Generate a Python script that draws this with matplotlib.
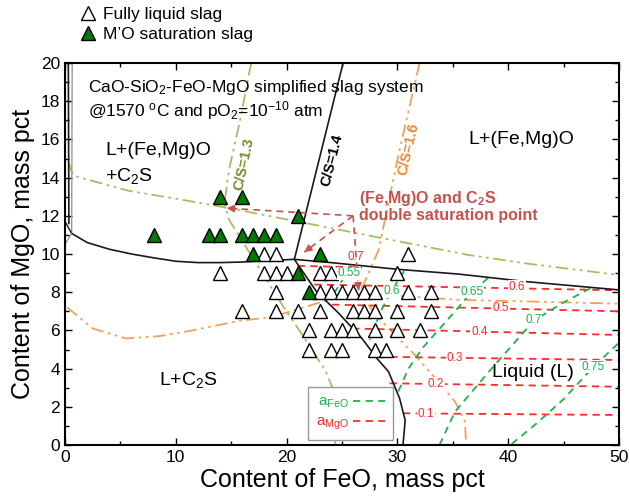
import matplotlib
matplotlib.use("Agg")
import matplotlib.pyplot as plt
from matplotlib.lines import Line2D

plt.rcParams['font.family'] = ['Liberation Sans', 'DejaVu Sans']
plt.rcParams['mathtext.fontset'] = 'custom'
plt.rcParams['mathtext.rm'] = 'Liberation Sans'
plt.rcParams['mathtext.it'] = 'Liberation Sans:italic'
plt.rcParams['mathtext.bf'] = 'Liberation Sans:bold'

# ---------------- data ----------------
liquid_feo = [18, 19, 31,
              14, 18, 19, 20, 23, 24, 30,
              19, 23, 24, 25, 26, 27, 28, 31, 33,
              16, 19, 21, 23, 26, 27, 28, 30, 33,
              22, 24, 25, 26, 28, 30, 32,
              22, 24, 25, 28, 29]
liquid_mgo = [10, 10, 10,
              9, 9, 9, 9, 9, 9, 9,
              8, 8, 8, 8, 8, 8, 8, 8, 8,
              7, 7, 7, 7, 7, 7, 7, 7, 7,
              6, 6, 6, 6, 6, 6, 6,
              5, 5, 5, 5, 5]
sat_feo = [8, 13, 14, 16, 17, 18, 19, 14, 16, 21, 17, 23, 21, 22]
sat_mgo = [11, 11, 11, 11, 11, 11, 11, 13, 13, 12, 10, 10, 9, 8]

# phase boundaries (solid black)
b_upper_x = [0.6, 2, 4, 6, 8, 10, 12, 14, 16, 18, 20.7]
b_upper_y = [11.08, 10.6, 10.25, 10.0, 9.8, 9.62, 9.55, 9.55, 9.58, 9.65, 9.72]
b_cs14_x = [20.7, 25.1]
b_cs14_y = [9.72, 20.0]
b_right_x = [20.7, 24, 30, 35.5, 41.7, 50]
b_right_y = [9.72, 9.55, 9.2, 8.95, 8.55, 8.12]
b_lower_x = [20.7, 22.7, 24.7, 26.8, 28.2, 29.2, 30.2, 30.7, 30.6, 30.5]
b_lower_y = [9.72, 8.03, 6.9, 5.58, 4.5, 3.84, 2.44, 1.3, 0.6, 0.0]
b_edge_x = [0.3, 0.35]
b_edge_y = [20.0, 11.6]
g_edge_x = [0.65, 0.6]
g_edge_y = [20.0, 11.08]

# C/S = 1.3 (yellow-green dash-dot)
cs13_x = [16.8, 15.8, 14.8, 14.4, 14.8, 16.3, 17.8, 19.9, 21.5, 23.5, 24.1, 24.3, 24.4]
cs13_y = [20.0, 17.0, 14.4, 12.7, 11.8, 10.4, 9.0, 7.07, 5.7, 3.9, 3.05, 1.5, 0.0]
# (Fe,Mg)O saturation line (yellow-green dash-dot)
fm_x = [0.3, 0.75, 5.8, 10, 14.8, 21, 28, 36.4, 41.7, 50]
fm_y = [14.8, 14.1, 13.3, 12.9, 12.4, 11.7, 10.9, 9.95, 9.5, 8.9]
# C/S = 1.6 (orange dash-dot-dot)
cs16_x = [32.0, 30.1, 28.3, 26.6, 28.3, 29.8, 31.6, 33.7, 35.2, 36.1, 36.2]
cs16_y = [20.0, 15.2, 10.2, 7.95, 6.64, 5.76, 4.7, 3.3, 2.27, 1.22, 0.0]
# C2S saturation line (orange dash-dot-dot)
c2s_x = [0.2, 2.5, 5.5, 8.5, 11.5, 15.7, 18.7, 23.2, 26.6, 35.5, 50]
c2s_y = [7.2, 6.1, 5.58, 5.7, 6.0, 6.5, 6.7, 7.5, 7.95, 7.6, 7.4]

# aMgO iso-activity lines (red dashed)
amgo_vals = ['0.7', '0.6', '0.5', '0.4', '0.3', '0.2', '0.1']
amgo_x0 = [21.0, 22.5, 24.1, 25.9, 28.2, 29.3, 30.5]
amgo_x1 = [26.8, 50, 50, 50, 50, 50, 50]
amgo_y0 = [9.38, 8.4, 7.35, 6.1, 4.62, 3.23, 1.66]
amgo_y1 = [9.3, 8.1, 7.0, 5.76, 4.45, 3.05, 1.57]
amgo_lab_x = [26.2, 40.8, 39.3, 37.4, 35.2, 33.5, 32.6]
amgo_lab_y = [9.86, 8.27, 7.15, 5.9, 4.56, 3.2, 1.64]

# aFeO iso-activity lines (green dashed)
afeo_vals = ['0.55', '0.6', '0.65', '0.7', '0.75']
afeo_x = [[25.8, 24.9, 23.9],
          [30.6, 29.4, 28.5, 27.5],
          [38.2, 36.7, 35.2, 32.3, 31.0, 30.0],
          [47.4, 44.8, 42.3, 38.5, 35.2, 33.8],
          [49.9, 47.7, 45.0, 42.5, 40.2]]
afeo_y = [[9.4, 8.5, 7.6],
          [9.1, 8.0, 7.0, 5.5],
          [8.75, 8.0, 7.0, 5.1, 4.0, 2.7],
          [8.2, 7.4, 6.5, 4.0, 1.75, 0.0],
          [5.3, 4.1, 2.4, 1.1, 0.0]]
afeo_lab_x = [25.6, 29.5, 36.7, 42.3, 47.7]
afeo_lab_y = [9.0, 8.06, 8.03, 6.54, 4.1]

# double saturation points (annotation arrows)
dsp_x = [14.6, 21.6, 26.5]
dsp_y = [12.4, 10.1, 8.1]
dsp_hub = (26.0, 12.0)

# colors
c_red = '#ff2a2a'
c_green = '#22b04b'
c_yg = '#a3c05e'
c_olive = '#6f8f2c'
c_orange = '#f5a05a'
c_orange_t = '#f0872a'
c_ann = '#c8504d'

# ---------------- figure ----------------
fig = plt.figure(figsize=(6.3, 5.04), dpi=100)
ax = fig.add_axes([65/630, 59/504, 554/630, 382/504])
ax.set_xlim(0, 50)
ax.set_ylim(0, 20)

dd = (0, (7, 2.5, 1.5, 2.5, 1.5, 2.5))
ax.plot(c2s_x, c2s_y, color=c_orange, lw=1.3, ls=dd)
ax.plot(cs16_x, cs16_y, color=c_orange, lw=1.3, ls=dd)
ax.plot(cs13_x, cs13_y, color=c_yg, lw=1.3, ls=dd)
ax.plot(fm_x, fm_y, color=c_yg, lw=1.3, ls=dd)

for i, v in enumerate(amgo_vals):
    ax.plot([amgo_x0[i], amgo_x1[i]], [amgo_y0[i], amgo_y1[i]], color=c_red,
            lw=1.3, ls=(0, (4, 3)))
    if i == 0:
        ax.text(amgo_lab_x[i], amgo_lab_y[i], v, color=c_red, fontsize=8.5,
                ha='center', va='center')
    else:
        ax.text(amgo_lab_x[i], amgo_lab_y[i], v, color=c_red, fontsize=8.5,
                ha='center', va='center',
                bbox=dict(facecolor='white', edgecolor='none', pad=0.6))

for i, v in enumerate(afeo_vals):
    ax.plot(afeo_x[i], afeo_y[i], color=c_green, lw=1.3, ls=(0, (4, 3)))
    ax.text(afeo_lab_x[i], afeo_lab_y[i], v, color=c_green, fontsize=8.5,
            ha='center', va='center',
            bbox=dict(facecolor='white', edgecolor='none', pad=0.3))

# phase boundaries
for bx, by in [(b_upper_x, b_upper_y), (b_cs14_x, b_cs14_y),
               (b_right_x, b_right_y), (b_lower_x, b_lower_y),
               (b_edge_x, b_edge_y)]:
    ax.plot(bx, by, color='#1a1a1a', lw=1.2)
ax.plot(g_edge_x, g_edge_y, color='#999999', lw=1.0)
ax.plot([0, 0.6], [11.7, 11.08], color='#1a1a1a', lw=1.0)
ax.plot([0.6, 0], [11.08, 10.5], color='#888888', lw=0.8)

# annotation arrows
for px, py in zip(dsp_x, dsp_y):
    ax.plot([dsp_hub[0], px], [dsp_hub[1], py], color=c_ann, lw=1.2,
            ls=(0, (4, 3)))
    dx = px - dsp_hub[0]
    dy = py - dsp_hub[1]
    ax.annotate('', xy=(px, py), xytext=(px - 0.08 * dx, py - 0.08 * dy),
                arrowprops=dict(arrowstyle='-|>', color=c_ann, lw=1.0,
                                mutation_scale=11, shrinkA=0, shrinkB=0))

# points
ax.plot(liquid_feo, liquid_mgo, ls='none', marker='^', ms=10,
        mfc='white', mec='black', mew=1.0)
ax.plot(sat_feo, sat_mgo, ls='none', marker='^', ms=10,
        mfc='#007a00', mec='black', mew=1.0)

# texts
ax.text(2.1, 18.7, r'CaO-SiO$_2$-FeO-MgO simplified slag system', fontsize=12.5,
        va='center', ha='left')
ax.text(2.1, 17.5, r'@1570 $^{\rm o}$C and pO$_2$=10$^{-10}$ atm', fontsize=12.5,
        va='center', ha='left')
ax.text(3.6, 15.4, 'L+(Fe,Mg)O', fontsize=14, va='center', ha='left')
ax.text(3.6, 14.1, r'+C$_2$S', fontsize=14, va='center', ha='left')
ax.text(36.4, 16.0, 'L+(Fe,Mg)O', fontsize=14, va='center', ha='left')
ax.text(8.5, 3.4, r'L+C$_2$S', fontsize=14, va='center', ha='left')
ax.text(38.5, 3.8, 'Liquid (L)', fontsize=14, va='center', ha='left')
ax.text(16.2, 14.7, 'C/S=1.3', fontsize=10.5, color=c_olive, rotation=78,
        ha='center', va='center', fontweight='bold')
ax.text(24.1, 14.9, 'C/S=1.4', fontsize=10.5, color='black', rotation=76,
        ha='center', va='center', fontweight='bold')
ax.text(31.0, 15.5, 'C/S=1.6', fontsize=10.5, color=c_orange_t, rotation=77,
        ha='center', va='center', fontweight='bold')
ax.text(26.5, 12.9, r'(Fe,Mg)O and C$_\mathbf{2}$S', fontsize=11.5, color=c_ann,
        fontweight='bold', ha='left', va='center')
ax.text(26.5, 12.0, 'double saturation point', fontsize=11.5, color=c_ann,
        fontweight='bold', ha='left', va='center')

# inset legend for activities
h_feo = Line2D([], [], color=c_green, lw=1.3, ls=(0, (4, 3)))
h_mgo = Line2D([], [], color=c_red, lw=1.3, ls=(0, (4, 3)))
leg2 = ax.legend([h_feo, h_mgo], [r'a$_{\rm FeO}$', r'a$_{\rm MgO}$'],
                 loc='lower left', bbox_to_anchor=(0.4386, 0.013),
                 borderaxespad=0, markerfirst=False, fontsize=11,
                 handlelength=2.1, handletextpad=0.3, labelcolor='linecolor',
                 fancybox=False, edgecolor='#999999', framealpha=1,
                 borderpad=0.5, labelspacing=0.3)
leg2.get_frame().set_linewidth(1.0)

# top legend
h1 = Line2D([], [], ls='none', marker='^', ms=10, mfc='white', mec='black', mew=1.0)
h2 = Line2D([], [], ls='none', marker='^', ms=10, mfc='#007a00', mec='black', mew=1.0)
fig.legend([h1, h2], ['Fully liquid slag', "M\u2019O saturation slag"],
           loc='upper left', bbox_to_anchor=(73/630, 1.0), frameon=False,
           fontsize=12.5, handlelength=0.9, handletextpad=0.4,
           labelspacing=0.25, borderaxespad=0.2, borderpad=0.2)

# axes styling
ax.set_xticks([0, 10, 20, 30, 40, 50])
ax.set_xticks([5, 15, 25, 35, 45], minor=True)
ax.set_yticks(range(0, 21, 2))
ax.set_yticks(range(1, 20, 2), minor=True)
ax.tick_params(which='both', direction='in', top=True, right=True,
               labelsize=12.5, width=1.0)
ax.tick_params(which='major', length=5)
ax.tick_params(which='minor', length=3)
for s in ax.spines.values():
    s.set_linewidth(1.5)
ax.set_xlabel('Content of FeO, mass pct', fontsize=18, labelpad=2)
ax.set_ylabel('Content of MgO, mass pct', fontsize=18, labelpad=4)

fig.savefig('out.png', dpi=100)
